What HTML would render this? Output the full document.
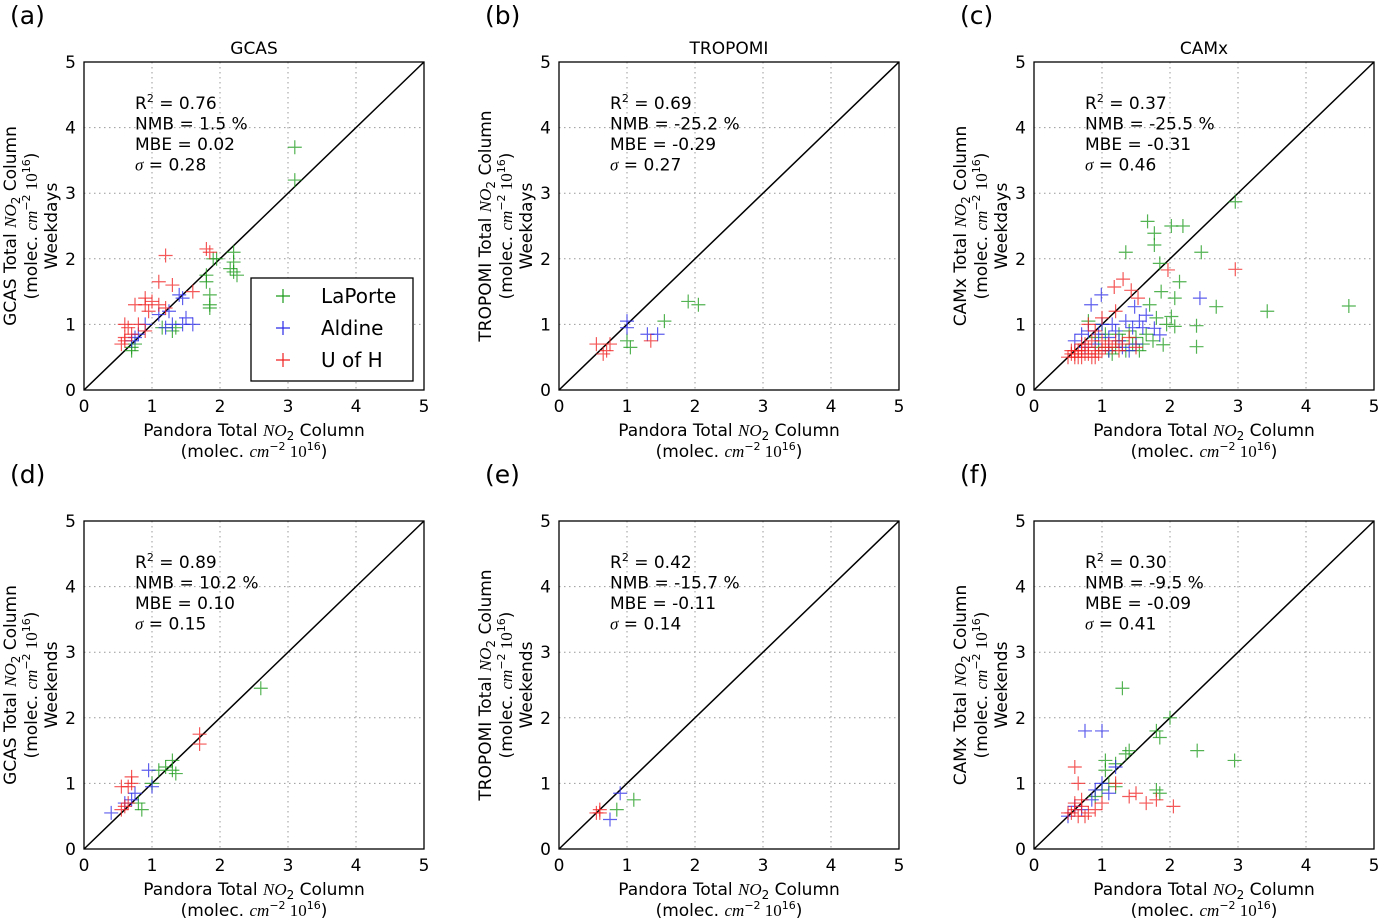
<!DOCTYPE html>
<html><head><meta charset="utf-8"><style>
body{margin:0;background:#fff;}
svg{display:block;font-family:"DejaVu Sans","Liberation Sans",sans-serif;}
</style></head><body>
<svg id="fig" width="1378" height="921" viewBox="0 0 1378 921"></svg>
<script>
const ticks=[0,1,2,3,4,5];
const panelLabels=["(a)","(b)","(c)","(d)","(e)","(f)"];
const titles=["GCAS","TROPOMI","CAMx","","",""];
const models=["GCAS","TROPOMI","CAMx","GCAS","TROPOMI","CAMx"];
const periods=["Weekdays","Weekdays","Weekdays","Weekends","Weekends","Weekends"];
const statR2=["0.76","0.69","0.37","0.89","0.42","0.30"];
const statNMB=["1.5","-25.2","-25.5","10.2","-15.7","-9.5"];
const statMBE=["0.02","-0.29","-0.31","0.10","-0.11","-0.09"];
const statSig=["0.28","0.27","0.46","0.15","0.14","0.41"];
const seriesNames=["LaPorte","Aldine","U of H"];
const seriesColors=["#1a9a1a","#2a2ae8","#f02020"];
const aGreen=[[3.1,3.7],[3.1,3.2],[1.9,2.0],[1.95,2.0],[2.2,2.1],[2.2,1.95],[2.15,1.85],[2.2,1.8],[2.25,1.75],[1.8,1.75],[1.8,1.65],[1.85,1.45],[1.85,1.25],[1.85,1.3],[1.35,0.95],[1.3,0.9],[1.15,0.95],[0.7,0.65],[0.7,0.6],[0.75,0.7]];
const aBlue=[[1.4,1.45],[1.45,1.4],[1.25,1.2],[1.1,1.15],[1.5,1.1],[1.45,1.0],[1.2,0.95],[1.6,1.0],[1.3,1.0],[0.9,1.0],[0.75,0.8],[0.7,0.75],[0.8,0.85]];
const aRed=[[1.8,2.15],[1.85,2.1],[1.2,2.05],[1.1,1.65],[1.3,1.6],[1.6,1.5],[0.9,1.4],[1.0,1.35],[0.75,1.3],[0.95,1.2],[1.2,1.25],[0.6,1.0],[0.8,1.0],[0.65,0.95],[0.6,0.75],[0.55,0.7],[0.7,0.85],[0.9,0.9],[0.6,0.8],[0.9,1.3],[1.1,1.3]];
const bGreen=[[1.9,1.35],[2.05,1.3],[1.55,1.05],[1.05,0.65],[1.0,0.75]];
const bBlue=[[1.0,1.05],[1.3,0.85],[1.45,0.85],[1.0,0.95]];
const bRed=[[0.55,0.7],[0.75,0.7],[0.7,0.6],[0.65,0.55],[1.35,0.75]];
const cGreen=[[1.67,2.57],[2.02,2.5],[2.19,2.5],[1.77,2.39],[1.77,2.21],[1.35,2.1],[2.46,2.1],[2.96,2.87],[1.85,1.93],[2.14,1.65],[1.87,1.5],[2.68,1.27],[3.43,1.2],[4.63,1.28],[2.07,1.4],[2.02,1.12],[2.07,0.97],[2.39,0.98],[2.39,0.66],[1.9,0.69],[1.6,0.7],[1.5,0.8],[1.4,0.9],[1.3,0.75],[1.2,0.65],[1.0,1.0],[0.8,1.05],[1.7,1.3],[1.8,1.1],[1.95,1.0],[1.55,0.6],[1.1,0.6],[0.9,0.8],[1.25,0.85],[1.45,0.7],[1.65,0.85],[1.75,0.75],[0.95,0.65],[1.15,0.55],[1.35,0.6],[1.05,0.85]];
const cBlue=[[2.44,1.4],[0.99,1.45],[0.84,1.3],[1.65,1.14],[1.85,0.84],[1.77,0.94],[1.48,1.27],[1.0,1.0],[1.2,0.9],[1.35,1.05],[1.1,0.8],[0.7,0.85],[0.6,0.75],[1.5,0.7],[1.6,0.95],[0.9,0.7],[1.1,0.6],[1.3,0.65],[0.8,0.9],[1.45,0.95],[1.25,0.75],[0.75,0.65],[1.55,1.05],[1.15,1.0],[0.95,0.85],[1.4,0.6]];
const cRed=[[2.96,1.84],[1.97,1.83],[1.31,1.69],[1.18,1.57],[1.43,1.52],[1.53,1.4],[1.2,1.2],[1.0,1.1],[0.8,1.0],[0.9,0.9],[0.7,0.7],[0.6,0.6],[0.55,0.55],[0.65,0.5],[0.75,0.55],[0.8,0.65],[0.9,0.6],[1.0,0.75],[1.1,0.7],[1.2,0.75],[1.3,0.7],[1.4,0.8],[0.7,0.5],[0.6,0.5],[0.85,0.5],[0.95,0.55],[1.05,0.65],[1.25,0.6],[0.5,0.5],[1.5,0.65],[0.65,0.6],[0.75,0.7],[0.85,0.75],[0.55,0.6],[0.7,0.6],[0.8,0.55],[0.9,0.5],[1.0,0.6],[0.6,0.55],[1.15,0.65]];
const dGreen=[[2.6,2.45],[1.3,1.35],[1.3,1.2],[1.35,1.15],[1.2,1.25],[1.1,1.2],[0.85,0.6],[0.8,0.7],[1.0,1.0]];
const dBlue=[[0.95,1.2],[0.4,0.55],[0.75,0.85],[1.0,0.95],[0.6,0.7],[0.7,0.75]];
const dRed=[[1.7,1.75],[1.7,1.6],[0.7,1.1],[0.65,0.95],[0.55,0.95],[0.7,1.0],[0.6,0.65],[0.55,0.6],[0.65,0.7]];
const eGreen=[[1.1,0.75],[0.85,0.6]];
const eBlue=[[0.9,0.85],[0.75,0.45]];
const eRed=[[0.55,0.55],[0.6,0.55],[0.6,0.6]];
const fGreen=[[1.3,2.45],[2.0,2.0],[1.8,1.8],[1.85,1.7],[2.4,1.5],[2.95,1.35],[1.4,1.5],[1.35,1.45],[1.05,1.35],[1.05,1.2],[1.2,1.3],[1.85,0.85],[1.8,0.9],[1.1,1.0],[1.2,0.95],[0.9,0.8],[1.0,0.9]];
const fBlue=[[0.75,1.8],[1.0,1.8],[1.2,1.25],[1.0,1.0],[0.9,0.9],[0.5,0.5],[0.7,0.6],[1.1,0.85],[0.85,0.75],[0.6,0.65]];
const fRed=[[0.6,1.25],[0.65,1.0],[1.2,1.0],[1.5,0.85],[1.4,0.8],[1.8,0.75],[2.05,0.65],[1.65,0.7],[0.55,0.55],[0.6,0.6],[0.7,0.65],[0.8,0.55],[0.5,0.55],[0.65,0.5],[0.9,0.6],[1.0,0.7],[0.7,0.75],[0.6,0.7],[0.75,0.5]];
const panelData=[[aGreen,aBlue,aRed],[bGreen,bBlue,bRed],[cGreen,cBlue,cRed],[dGreen,dBlue,dRed],[eGreen,eBlue,eRed],[fGreen,fBlue,fRed]];

const NS="http://www.w3.org/2000/svg";
const svg=document.getElementById('fig');
function mk(tag,attrs,parent,text){const e=document.createElementNS(NS,tag);for(const k in attrs)e.setAttribute(k,attrs[k]);if(text!==undefined)e.textContent=text;(parent||svg).appendChild(e);return e;}
const lefts=[84,559,1034],tops=[62,521],W=340,H=328;
for(let p=0;p<6;p++){
  const L=lefts[p%3],T=tops[Math.floor(p/3)];
  const g=mk('g',{});
  
  
  const xs=v=>L+v/5*W, ys=v=>T+H-v/5*H;
  for(const t of ticks){
    if(t>0&&t<5){
      const gl=mk('line',{x1:xs(t),x2:xs(t),y1:T,y2:T+H,stroke:'#999','stroke-dasharray':'1.5,3.5','stroke-width':1},g);
      
      const gh=mk('line',{x1:L,x2:L+W,y1:ys(t),y2:ys(t),stroke:'#999','stroke-dasharray':'1.5,3.5','stroke-width':1},g);
      
    }
    const xt=mk('text',{x:xs(t),y:T+H+22,'text-anchor':'middle','font-size':17},g,String(t));
    
    const yt=mk('text',{x:L-8,y:ys(t)+6,'text-anchor':'end','font-size':17},g,String(t));
    
  }
  const ol=mk('line',{x1:xs(0),y1:ys(0),x2:xs(5),y2:ys(5),stroke:'#000','stroke-width':1.5},g);
  
  panelData[p].forEach((pts,si)=>{
    pts.forEach(([x,y])=>{
      const cx=xs(x),cy=ys(y);
      const m=mk('path',{d:`M${cx-7},${cy}H${cx+7}M${cx},${cy-7}V${cy+7}`,stroke:seriesColors[si],'stroke-width':1.2,'stroke-opacity':0.75,fill:'none'},g);
      
      
    });
  });
  const fr=mk('rect',{x:L,y:T,width:W,height:H,fill:'none',stroke:'#000','stroke-width':1.3},g);
  
  const st=mk('text',{x:L+51,y:T+47,'font-size':17},g);
  
  const l0=mk('tspan',{x:L+51,y:T+47},st,'R');
  mk('tspan',{'font-size':11,dy:-7},st,'2');
  mk('tspan',{dy:7},st,` = ${statR2[p]}`);
  mk('tspan',{x:L+51,y:T+47+20.5},st,`NMB = ${statNMB[p]} %`);
  mk('tspan',{x:L+51,y:T+47+41},st,`MBE = ${statMBE[p]}`);
  mk('tspan',{x:L+51,y:T+47+61.5,'font-style':'italic','font-family':'Liberation Serif, serif'},st,'σ');
  mk('tspan',{},st,` = ${statSig[p]}`);
  if(titles[p]){const tt=mk('text',{x:L+W/2,y:T-8,'text-anchor':'middle','font-size':17},g,titles[p]);
    }
  const pl=mk('text',{x:L-74,y:T-38,'font-size':25},g,panelLabels[p]);
  
  const xl=mk('text',{x:L+W/2,y:T+H+46,'text-anchor':'middle','font-size':17},g);
  
  mk('tspan',{},xl,'Pandora Total ');mk('tspan',{'font-style':'italic','font-family':'Liberation Serif, serif'},xl,'NO');
  mk('tspan',{'font-size':12,dy:4},xl,'2');mk('tspan',{dy:-4},xl,' Column');
  const xl2=mk('text',{x:L+W/2,y:T+H+67,'text-anchor':'middle','font-size':17},g);
  
  mk('tspan',{},xl2,'(molec. ');mk('tspan',{'font-style':'italic','font-family':'Liberation Serif, serif'},xl2,'cm');
  mk('tspan',{'font-size':11,dy:-7},xl2,'−2');mk('tspan',{dy:7,'font-family':'Liberation Serif, serif'},xl2,' 10');
  mk('tspan',{'font-size':11,dy:-7},xl2,'16');mk('tspan',{dy:7},xl2,')');
  const cy=T+H/2;
  const yl=mk('text',{transform:`translate(${L-68},${cy}) rotate(-90)`,'text-anchor':'middle','font-size':17},g);
  
  mk('tspan',{},yl,models[p]+' Total ');mk('tspan',{'font-style':'italic','font-family':'Liberation Serif, serif'},yl,'NO');
  mk('tspan',{'font-size':12,dy:4},yl,'2');mk('tspan',{dy:-4},yl,' Column');
  const yl2=mk('text',{transform:`translate(${L-47},${cy}) rotate(-90)`,'text-anchor':'middle','font-size':17},g);
  
  mk('tspan',{},yl2,'(molec. ');mk('tspan',{'font-style':'italic','font-family':'Liberation Serif, serif'},yl2,'cm');
  mk('tspan',{'font-size':11,dy:-7},yl2,'−2');mk('tspan',{dy:7,'font-family':'Liberation Serif, serif'},yl2,' 10');
  mk('tspan',{'font-size':11,dy:-7},yl2,'16');mk('tspan',{dy:7},yl2,')');
  const yl3=mk('text',{transform:`translate(${L-27},${cy}) rotate(-90)`,'text-anchor':'middle','font-size':17},g,periods[p]);
  
}
const lg=mk('g',{});

mk('rect',{x:251,y:278,width:162,height:103,fill:'#fff',stroke:'#000','stroke-width':1.3},lg);
seriesNames.forEach((n,i)=>{
  const yy=296+i*32;
  const e=mk('g',{},lg);
  
  mk('path',{d:`M${276},${yy}H${290}M${283},${yy-7}V${yy+7}`,stroke:seriesColors[i],'stroke-width':1.2,fill:'none'},e);
  mk('text',{x:321,y:yy+7,'font-size':20},e,n);
});
</script>
</body></html>
